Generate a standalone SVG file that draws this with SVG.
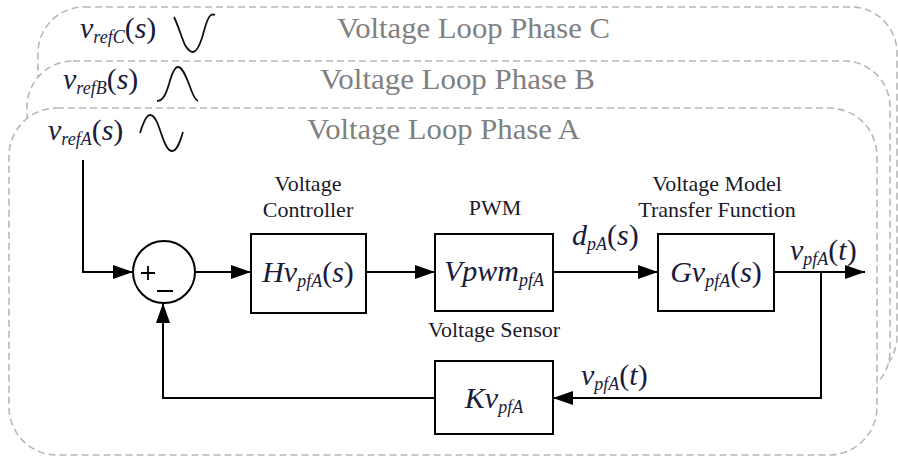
<svg xmlns="http://www.w3.org/2000/svg" width="898" height="459" viewBox="0 0 898 459" font-family="Liberation Serif">
<defs>
<marker id="arr" markerUnits="userSpaceOnUse" markerWidth="20" markerHeight="14" refX="20" refY="7" orient="auto">
<path d="M0,0 L20,7 L0,14 z" fill="#000"/>
</marker>
<style>
text{font-family:'Liberation Serif','Times New Roman',serif}
.loop{fill:#fff;stroke:#b8b8b8;stroke-width:1.6;stroke-dasharray:7 4}
.ltitle{font-size:30px;fill:#808080}
.m{font-style:italic;font-size:30px;fill:#1a1a3a}
.sub{font-size:18px}
.up{font-style:normal}
.lbl{font-size:22px;fill:#1a1a2a;text-anchor:middle}
.box{fill:#fff;stroke:#000;stroke-width:2}
.wire{fill:none;stroke:#000;stroke-width:2}
.wave{fill:none;stroke:#111;stroke-width:1.8}
</style>
</defs>

<g id="loopC">
<rect class="loop" x="38" y="7" width="859" height="375" rx="46"/>
<text class="m" x="80" y="38">v<tspan class="sub" dy="5">refC</tspan><tspan class="up" dy="-5">(</tspan>s<tspan class="up">)</tspan></text>
<path class="wave" d="M174,17 C178,25 181,36 185,45 C188,50 191,52 193,52 C196,52 199,47 202,38 C205,28 207,17 211,15 C213,14 215,15 215,15"/>
<text class="ltitle" x="337" y="38" textLength="273" lengthAdjust="spacingAndGlyphs">Voltage Loop Phase C</text>
</g>

<g id="loopB">
<rect class="loop" x="27" y="61" width="863" height="336" rx="46"/>
<text class="m" x="63" y="89">v<tspan class="sub" dy="5">refB</tspan><tspan class="up" dy="-5">(</tspan>s<tspan class="up">)</tspan></text>
<path class="wave" d="M157,101 C163,101 166,94 169,84 C172,73 175,67 178,67 C182,67 185,74 189,84 C192,93 195,100 198,101"/>
<text class="ltitle" x="320" y="89" textLength="275" lengthAdjust="spacingAndGlyphs">Voltage Loop Phase B</text>
</g>

<g id="loopA">
<rect class="loop" x="9" y="108" width="868" height="347" rx="48"/>
<text class="m" x="48" y="140">v<tspan class="sub" dy="5">refA</tspan><tspan class="up" dy="-5">(</tspan>s<tspan class="up">)</tspan></text>
<path class="wave" d="M140,133 C144,120 147,115 150,115 C155,115 158,124 161,133 C165,145 168,151 172,151 C177,151 180,142 183,132"/>
<text class="ltitle" x="307" y="139" textLength="273" lengthAdjust="spacingAndGlyphs">Voltage Loop Phase A</text>
</g>

<g id="connectors">
<path class="wire" d="M83,160 V272 H133" marker-end="url(#arr)"/>
<path class="wire" d="M195,272 H251" marker-end="url(#arr)"/>
<path class="wire" d="M366,272 H435" marker-end="url(#arr)"/>
<path class="wire" d="M553,272 H658" marker-end="url(#arr)"/>
<path class="wire" d="M774,272 H865" marker-end="url(#arr)"/>
<path class="wire" d="M821,272 V398 H553" marker-end="url(#arr)"/>
<path class="wire" d="M435,398 H163 V303" marker-end="url(#arr)"/>
<text class="m" x="572" y="245">d<tspan class="sub" dy="5">pA</tspan><tspan class="up" dy="-5">(</tspan>s<tspan class="up">)</tspan></text>
<text class="m" x="790" y="260">v<tspan class="sub" dy="5">pfA</tspan><tspan class="up" dy="-5">(</tspan>t<tspan class="up">)</tspan></text>
<text class="m" x="581" y="385">v<tspan class="sub" dy="5">pfA</tspan><tspan class="up" dy="-5">(</tspan>t<tspan class="up">)</tspan></text>
</g>

<g id="sum">
<circle cx="164" cy="272" r="31" fill="#fff" stroke="#000" stroke-width="2"/>
<path d="M141,273 H155 M148,266 V280 M157,291 H173" stroke="#000" stroke-width="1.8" fill="none"/>
</g>

<g id="hv">
<text class="lbl" x="308" y="191">Voltage</text>
<text class="lbl" x="308" y="217">Controller</text>
<rect class="box" x="251" y="234" width="115" height="79"/>
<text class="m" x="308" y="282" text-anchor="middle">Hv<tspan class="sub" dy="5">pfA</tspan><tspan class="up" dy="-5">(</tspan>s<tspan class="up">)</tspan></text>
</g>

<g id="pwm">
<text class="lbl" x="495" y="215">PWM</text>
<rect class="box" x="435" y="234" width="118" height="77"/>
<text class="m" x="494" y="281" text-anchor="middle">Vpwm<tspan class="sub" dy="5">pfA</tspan></text>
</g>

<g id="gv">
<text class="lbl" x="717" y="191">Voltage Model</text>
<text class="lbl" x="717" y="217">Transfer Function</text>
<rect class="box" x="658" y="234" width="116" height="77"/>
<text class="m" x="716" y="282" text-anchor="middle">Gv<tspan class="sub" dy="5">pfA</tspan><tspan class="up" dy="-5">(</tspan>s<tspan class="up">)</tspan></text>
</g>

<g id="kv">
<text class="lbl" x="494" y="337">Voltage Sensor</text>
<rect class="box" x="435" y="361" width="118" height="73"/>
<text class="m" x="494" y="408" text-anchor="middle">Kv<tspan class="sub" dy="5">pfA</tspan></text>
</g>
</svg>
